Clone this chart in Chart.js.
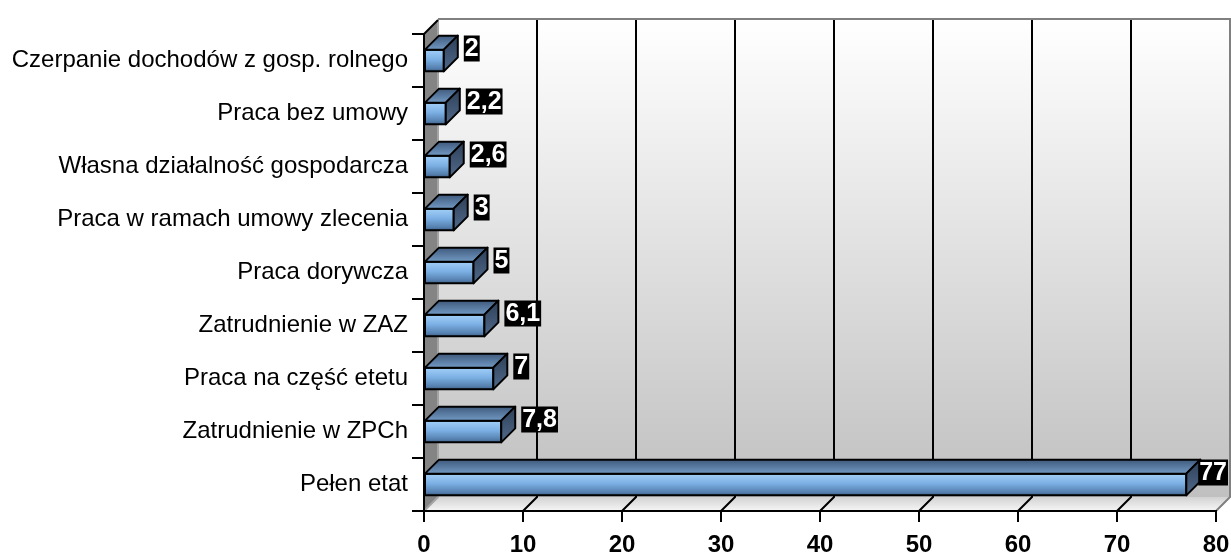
<!DOCTYPE html>
<html>
<head>
<meta charset="utf-8">
<script src="https://cdn.jsdelivr.net/npm/chart.js@4/dist/chart.umd.min.js"></script>
<style>
	body { margin: 0; background: #fff; }
	#wrap { width: 1231px; height: 554px; }
</style>
</head>
<body>
<div id="wrap"><canvas id="zatrudnienieChart" width="1231" height="554"></canvas></div>
<script>
// dane z wykresu
var categories = [
	'Czerpanie dochodów z gosp. rolnego',
	'Praca bez umowy',
	'Własna działalność gospodarcza',
	'Praca w ramach umowy zlecenia',
	'Praca dorywcza',
	'Zatrudnienie w ZAZ',
	'Praca na część etetu',
	'Zatrudnienie w ZPCh',
	'Pełen etat'
];
var values = [2, 2.2, 2.6, 3, 5, 6.1, 7, 7.8, 77];
var xMin = 0,
	xMax = 80,
	xStep = 10;

var DEPTH = 14;
var FONT = "'Liberation Sans', Arial, sans-serif";

function vGrad(ctx, y0, y1, stops){
	var g = ctx.createLinearGradient(0, y0, 0, y1);
	stops.forEach(function(s){ g.addColorStop(s[0], s[1]); });
	return g;
}

function poly(ctx, pts){
	ctx.beginPath();
	ctx.moveTo(pts[0][0], pts[0][1]);
	for (var i = 1; i < pts.length; i++) ctx.lineTo(pts[i][0], pts[i][1]);
	ctx.closePath();
}

// sciany 3D: tylna, lewa, podloga + linie siatki
var wallsPlugin = {
	id: 'walls',
	beforeDraw: function(chart){
		var ctx = chart.ctx,
			a = chart.chartArea,
			xs = chart.scales.x,
			d = DEPTH;

		ctx.save();

		// tylna sciana
		ctx.fillStyle = vGrad(ctx, a.top - d, a.bottom - d, [[0, '#ffffff'], [1, '#c0c0c0']]);
		ctx.fillRect(a.left + d, a.top - d - 1, a.right - a.left, a.bottom - a.top + 1);

		// podloga
		poly(ctx, [[a.left, a.bottom], [a.left + d, a.bottom - d], [a.right + d, a.bottom - d], [a.right, a.bottom]]);
		ctx.fillStyle = vGrad(ctx, a.bottom - d, a.bottom, [[0, '#d2d2d2'], [1, '#f6f6f6']]);
		ctx.fill();

		// lewa sciana
		poly(ctx, [[a.left, a.top], [a.left + d, a.top - d], [a.left + d, a.bottom - d], [a.left, a.bottom]]);
		ctx.fillStyle = '#848484';
		ctx.fill();

		// siatka na tylnej scianie i podlodze
		ctx.lineWidth = 2;
		ctx.strokeStyle = '#000';
		for (var v = xMin + xStep; v < xMax; v += xStep) {
			var px = xs.getPixelForValue(v);
			ctx.beginPath();
			ctx.moveTo(px, a.bottom);
			ctx.lineTo(px + d, a.bottom - d);
			ctx.lineTo(px + d, a.top - d - 1);
			ctx.stroke();
		}

		// krawedzie
		ctx.strokeStyle = '#808080';
		ctx.beginPath();
		ctx.moveTo(a.left + d, a.top - d - 1);
		ctx.lineTo(a.right + d, a.top - d - 1);
		ctx.lineTo(a.right + d, a.bottom - d);
		ctx.lineTo(a.right, a.bottom);
		ctx.stroke();

		ctx.strokeStyle = '#a4a4a4';
		ctx.beginPath();
		ctx.moveTo(a.left + d, a.top - d);
		ctx.lineTo(a.left + d, a.bottom - d);
		ctx.lineTo(a.left, a.bottom);
		ctx.stroke();

		ctx.strokeStyle = '#000';
		ctx.beginPath();
		ctx.moveTo(a.left, a.top);
		ctx.lineTo(a.left + d, a.top - d);
		ctx.stroke();

		ctx.restore();
	}
};

// slupki 3D + etykiety wartosci
var bars3dPlugin = {
	id: 'bars3d',
	afterDatasetsDraw: function(chart){
		var ctx = chart.ctx,
			meta = chart.getDatasetMeta(0),
			d = DEPTH;

		ctx.save();
		ctx.lineWidth = 2;
		ctx.lineJoin = 'round';
		ctx.strokeStyle = '#000';

		meta.data.forEach(function(el, i){
			var x0 = el.base,
				x1 = el.x,
				yT = el.y - el.height / 2,
				yB = el.y + el.height / 2;

			// przod
			ctx.fillStyle = vGrad(ctx, yT, yB, [[0, '#a2cff8'], [0.45, '#7cb0e4'], [0.85, '#5681b0'], [1, '#3f5f84']]);
			poly(ctx, [[x0, yT], [x1, yT], [x1, yB], [x0, yB]]);
			ctx.fill();
			ctx.stroke();

			// gora
			ctx.fillStyle = vGrad(ctx, yT - d, yT, [[0, '#3f5a7c'], [1, '#7299c3']]);
			poly(ctx, [[x0, yT], [x0 + d, yT - d], [x1 + d, yT - d], [x1, yT]]);
			ctx.fill();
			ctx.stroke();

			// bok
			ctx.fillStyle = vGrad(ctx, yT - d, yB, [[0, '#2e4058'], [1, '#50698a']]);
			poly(ctx, [[x1, yT], [x1 + d, yT - d], [x1 + d, yB - d], [x1, yB]]);
			ctx.fill();
			ctx.stroke();
		});

		// etykiety
		ctx.font = 'bold 25px ' + FONT;
		ctx.textBaseline = 'middle';
		ctx.textAlign = 'left';
		meta.data.forEach(function(el, i){
			var txt = String(values[i]).replace('.', ','),
				w = ctx.measureText(txt).width + 2,
				h = 26,
				lx = el.x + d + 6,
				cy = el.y - 12;
			if (lx + w > chart.width - 3) lx = chart.width - 3 - w;
			ctx.fillStyle = '#000';
			ctx.fillRect(lx, cy - h / 2, w, h);
			ctx.fillStyle = '#fff';
			ctx.fillText(txt, lx + 1, cy + 1);
		});

		ctx.restore();
	}
};

var ctx = document.getElementById('zatrudnienieChart').getContext('2d');
var zatrudnienieChart = new Chart(ctx, {
	type: 'bar',
	data: {
		labels: categories,
		datasets: [{
			data: values,
			backgroundColor: 'rgba(0,0,0,0)',
			borderWidth: 0,
			barPercentage: 0.82,
			categoryPercentage: 0.5
		}]
	},
	options: {
		indexAxis: 'y',
		responsive: false,
		animation: false,
		devicePixelRatio: 1,
		layout: { padding: { top: 34, right: 15, left: 0, bottom: 0 } },
		plugins: {
			legend: { display: false },
			tooltip: { enabled: false }
		},
		scales: {
			x: {
				min: xMin,
				max: xMax,
				afterFit: function(s){ s.height = 43; s.paddingRight = 0; },
				ticks: {
					stepSize: xStep,
					color: '#000',
					padding: 9,
					font: { family: FONT, size: 24, weight: 'bold' }
				},
				grid: { drawOnChartArea: false, drawTicks: true, tickLength: 11, color: '#000', lineWidth: 2 },
				border: { display: true, color: '#000', width: 2 }
			},
			y: {
				afterFit: function(s){ s.width = 424; },
				ticks: {
					color: '#000',
					padding: 4,
					font: { family: FONT, size: 24 }
				},
				grid: { drawOnChartArea: false, drawTicks: true, tickLength: 12, color: '#000', lineWidth: 2 },
				border: { display: true, color: '#000', width: 2 }
			}
		}
	},
	plugins: [wallsPlugin, bars3dPlugin]
});
</script>
</body>
</html>
